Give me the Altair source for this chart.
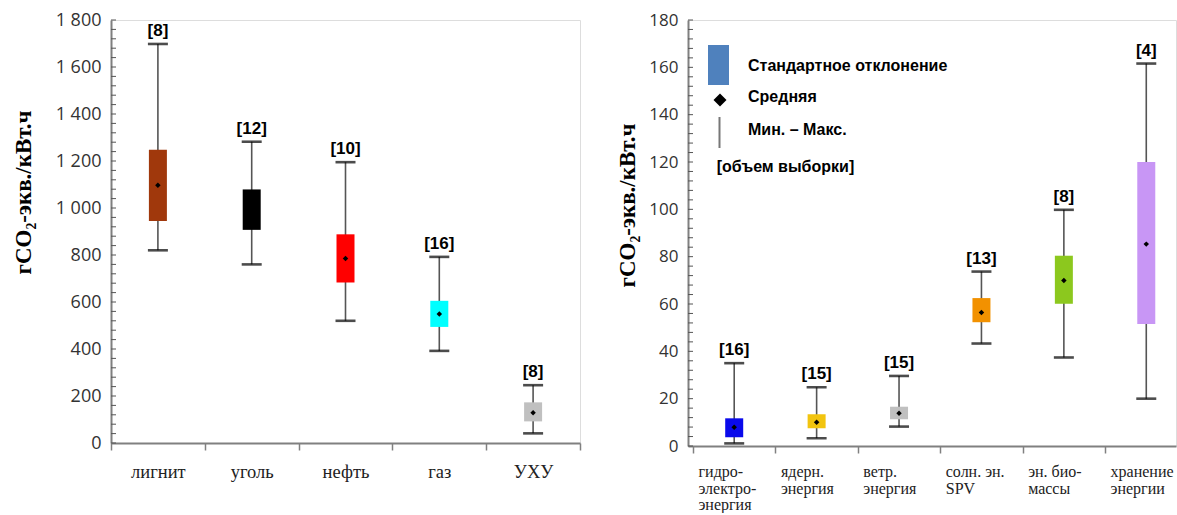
import json
import altair as alt
import pandas as pd

# ---------------- data ----------------
cats_l = ["лигнит", "уголь", "нефть", "газ", "УХУ"]
min_l = [820, 760, 520, 392, 41]
low_l = [945, 907, 683, 494, 92]
mean_l = [1097, 993, 785, 549, 129]
high_l = [1248, 1079, 888, 605, 173]
max_l = [1698, 1282, 1195, 792, 246]
n_l = [8, 12, 10, 16, 8]
colors_l = ["#A0380C", "#000000", "#FF0000", "#00FFFF", "#C0C0C0"]
yticks_l = list(range(0, 1801, 200))

cats_r = ["гидро-|электро-|энергия", "ядерн.|энергия", "ветр.|энергия",
          "солн. эн.|\u00a0\u00a0SPV", "эн. био-|массы", "хранение|энергии"]
min_r = [1.1, 3.3, 8.2, 43.3, 37.4, 20]
low_r = [3.7, 7.5, 11.3, 52.3, 60.1, 51.5]
mean_r = [7.9, 10.0, 13.8, 56.4, 69.9, 85.3]
high_r = [11.7, 13.4, 16.6, 62.5, 80.4, 120]
max_r = [35, 24.8, 29.6, 73.7, 99.8, 161.6]
n_r = [16, 15, 15, 13, 8, 4]
colors_r = ["#0A0AEB", "#F2C40F", "#C0C0C0", "#F29100", "#8CC81E", "#C896F5"]
yticks_r = list(range(0, 181, 20))

ytitle = "гCO₂-экв./кВт.ч"

legend_texts = ["Стандартное отклонение", "Средняя", "Мин. – Макс.", "[объем выборки]"]


def panel(df, X, cats, colors, yvals, ymax, minor_step, ylab_size, title_x, title_y):
    ticks = pd.DataFrame({"t": [v for v in range(0, ymax + 1, minor_step)]})
    yscale = alt.Scale(domain=[0, ymax], nice=False, zero=True)
    yaxis = alt.Axis(values=yvals, ticks=False, grid=False,
                     domainColor="#808080", domainWidth=2,
                     labelFont="Open Sans", labelFontSize=ylab_size,
                     labelColor="#333333", labelPadding=10,
                     labelExpr="replace(format(datum.value, ','), ',', ' ')",
                     title=ytitle, titleFont="Liberation Serif",
                     titleFontWeight="bold", titleFontSize=23,
                     titleColor="black", titleAngle=270,
                     titleX=title_x, titleY=title_y,
                     titleAlign="center", titleBaseline="middle")
    color = alt.Color("cat:N", scale=alt.Scale(domain=cats, range=colors), legend=None)
    base = alt.Chart(df)
    whisk = base.mark_rule(color="#555555", strokeWidth=1.6).encode(
        x=X, y=alt.Y("min:Q", scale=yscale, axis=yaxis), y2="max:Q")
    cap_lo = base.mark_tick(color="black", size=20, thickness=2.6,
                            orient="horizontal").encode(
        x=X, y=alt.Y("min:Q", scale=yscale, axis=yaxis))
    cap_hi = base.mark_tick(color="black", size=20, thickness=2.6,
                            orient="horizontal").encode(
        x=X, y=alt.Y("max:Q", scale=yscale, axis=yaxis))
    box = base.mark_bar(size=18, opacity=1).encode(
        x=X, y=alt.Y("low:Q", scale=yscale, axis=yaxis), y2="high:Q", color=color)
    mean = base.mark_point(shape="diamond", filled=True, size=30, color="black",
                           opacity=1).encode(
        x=X, y=alt.Y("mean:Q", scale=yscale, axis=yaxis))
    nlab = base.mark_text(baseline="bottom", dy=-4, font="Liberation Sans",
                          fontWeight="bold", fontSize=17, color="black").encode(
        x=X, y=alt.Y("max:Q", scale=yscale, axis=yaxis), text="lab:N")
    tk = alt.Chart(ticks).mark_rule(color="#555555", strokeWidth=1).encode(
        x=alt.value(0), x2=alt.value(5), y=alt.Y("t:Q", scale=yscale, axis=yaxis))
    return [tk, whisk, cap_lo, cap_hi, box, mean, nlab]


def frame(cats, mn, lo, me, hi, mx, n):
    return pd.DataFrame({"cat": cats, "i": list(range(len(cats))), "min": mn,
                         "low": lo, "mean": me, "high": hi, "max": mx,
                         "lab": ["[" + str(v) + "]" for v in n]})


# ---- left panel: band scale ----
xaxis_l = alt.Axis(tickBand="extent", tickSize=7, tickColor="#808080", tickWidth=1.5,
                   domainColor="#808080", domainWidth=2, labelAngle=0,
                   labelAlign="center", labelFont="Liberation Serif",
                   labelFontSize=18.5, labelColor="#222222", labelPadding=12,
                   labelOverlap=False, labelBound=False, title=None, grid=False)
X_l = alt.X("cat:N", sort=cats_l,
            scale=alt.Scale(type="band", paddingInner=0, paddingOuter=0),
            axis=xaxis_l)
left = alt.layer(*panel(frame(cats_l, min_l, low_l, mean_l, high_l, max_l, n_l),
                        X_l, cats_l, colors_l, yticks_l, 1800, 40, 18, -88, 172)
                 ).properties(width=469, height=423)

# ---- right panel: category index on a linear scale (last band cut by frame) ----
bounds_r = [i - 0.5 for i in range(len(cats_r))]
xaxis_r = alt.Axis(values=bounds_r, tickSize=7, tickColor="#808080", tickWidth=1.5,
                   domainColor="#808080", domainWidth=2, labelAngle=0,
                   labelAlign="left", labelOffset=5,
                   labelFont="Liberation Serif", labelFontSize=16,
                   labelColor="#222222", labelPadding=10.5, labelLineHeight=16.5,
                   labelExpr="split(" + json.dumps(cats_r, ensure_ascii=False)
                             + "[round(datum.value + 0.5)], '|')",
                   labelOverlap=False, labelBound=False, labelFlush=False,
                   title=None, grid=False)
X_r = alt.X("i:Q", scale=alt.Scale(domain=[-0.5, 5.3], nice=False, zero=False),
            axis=xaxis_r)
right_layers = panel(frame(cats_r, min_r, low_r, mean_r, high_r, max_r, n_r),
                     X_r, cats_r, colors_r, yticks_r, 180, 4, 17, -61, 185)

one = alt.Data(values=[{"k": 1}])
lg_font = dict(font="Liberation Sans", fontWeight="bold", fontSize=16,
               color="black", align="left", baseline="middle")
leg = [
    alt.Chart(one).mark_rect(color="#4F81BD").encode(
        x=alt.value(20), x2=alt.value(41), y=alt.value(25), y2=alt.value(65)),
    alt.Chart(one).mark_text(text=legend_texts[0], **lg_font).encode(
        x=alt.value(60), y=alt.value(46)),
    alt.Chart(one).mark_point(shape="diamond", filled=True, size=170,
                              color="black", opacity=1).encode(
        x=alt.value(32), y=alt.value(80)),
    alt.Chart(one).mark_text(text=legend_texts[1], **lg_font).encode(
        x=alt.value(60), y=alt.value(77)),
    alt.Chart(one).mark_rule(color="#777777", strokeWidth=2).encode(
        x=alt.value(31.5), y=alt.value(97), y2=alt.value(128)),
    alt.Chart(one).mark_text(text=legend_texts[2], **lg_font).encode(
        x=alt.value(60), y=alt.value(110)),
    alt.Chart(one).mark_text(text=legend_texts[3], **lg_font).encode(
        x=alt.value(28.7), y=alt.value(147)),
]
right = alt.layer(*(right_layers + leg)).properties(width=488, height=426)

chart = alt.hconcat(left, right, spacing=108, bounds="flush").resolve_scale(
    color="independent", x="independent", y="independent"
).properties(
    padding={"left": 11, "top": 10, "right": 0, "bottom": 0}
).configure_view(stroke="#808080", strokeWidth=1.5).configure(background="white")

chart.save("out.html", embed_options={"renderer": "svg", "actions": False})
